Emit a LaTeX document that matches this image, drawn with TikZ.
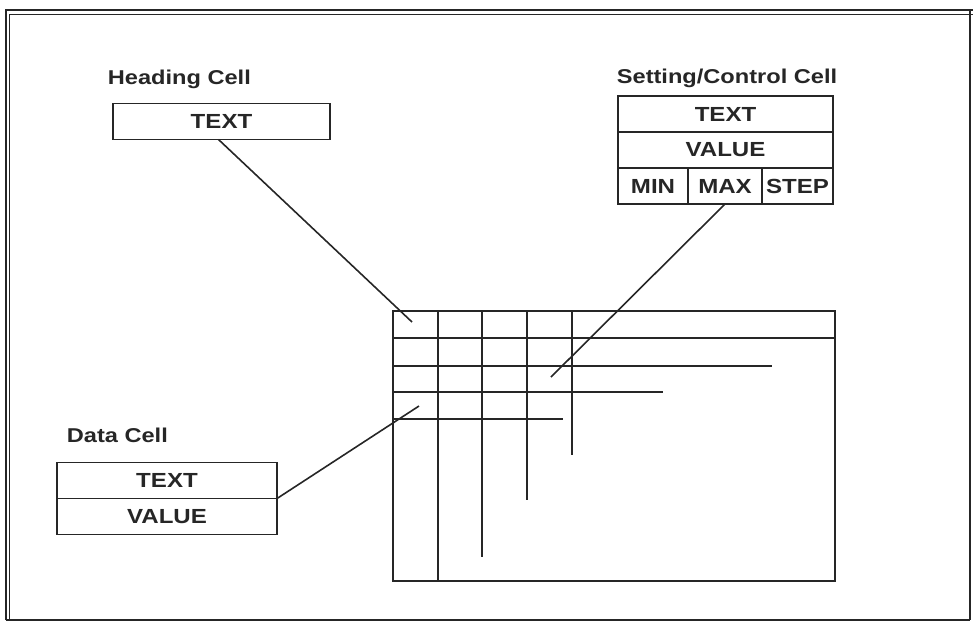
\documentclass[tikz,border=0pt]{standalone}
\usepackage{fontspec}
\setmainfont{Liberation Sans}[FakeStretch=1.18]
\usetikzlibrary{positioning}
\begin{document}
\begin{tikzpicture}[x=0.5pt, y=-0.5pt, line width=0.9pt, color=black!85,
	cella/.style  = {draw, inner sep=0pt, outer sep=0pt, minimum height=18pt,
		font=\fontsize{10.2}{12}\selectfont\bfseries},
	titolo/.style = {anchor=west, inner sep=0pt,
		font=\fontsize{10}{12}\selectfont\bfseries},
	colleg/.style = {line width=0.8pt},
	]
	\useasboundingbox (0,0) rectangle (973,623);
	
	%% ── Cornice ──────────────────────────────────────────────────────────────
	\draw[line width=1.1pt](6,620)--(6,10)--(973,10);
	\draw[line width=0.5pt](9.5,620)--(9.5,14)--(973,14);
	\draw(970,10)--(970,620);
	\draw(6,620)--(970,620);
	
	%% ── Parametri griglia ────────────────────────────────────────────────────
	\def\xL{393} \def\xR{835}
	\def\yT{311} \def\yB{581}
	
	%% ── Griglia ──────────────────────────────────────────────────────────────
	\draw(\xL,\yT)rectangle(\xR,\yB);
	\draw(\xL,338)--(\xR,338);
	\draw(\xL,366)--(772,366);
	\draw(\xL,392)--(663,392);
	\draw(\xL,419)--(563,419);
	\draw(438,\yT)--(438,\yB);
	\draw(482,\yT)--(482,557);
	\draw(527,\yT)--(527,500);
	\draw(572,\yT)--(572,455);
	
	%% ── Cella di intestazione ────────────────────────────────────────────────
	\node[titolo](htit)at(107,79){Heading Cell};
	\node[cella, minimum width=108.5pt](htext)at(221.5,121.5){TEXT};
	
	%% ── Cella di impostazione ────────────────────────────────────────────────
	\node[titolo](stit)at(616,78){Setting/Control Cell};
	\node[cella, minimum width=107.5pt](stext)at(725.5,114){TEXT};
	\node[cella, minimum width=107.5pt, below=0pt of stext](svalue){VALUE};
	\node[cella, minimum width=35pt, below right=0pt and 0pt of svalue.south west](smin){MIN};
	\node[cella, minimum width=37pt, right=0pt of smin](smax){MAX};
	\node[cella, minimum width=35.5pt, right=0pt of smax](sstep){STEP};
	
	%% ── Cella dati ───────────────────────────────────────────────────────────
	\node[titolo](dtit)at(66,435){Data Cell};
	\node[cella, minimum width=110pt](dtext)at(167,480.5){TEXT};
	\node[cella, minimum width=110pt, below=0pt of dtext](dvalue){VALUE};
	
	%% ── Collegamenti ─────────────────────────────────────────────────────────
	\coordinate(hfine)at(412,322);
	\coordinate(sfine)at(551,377);
	\coordinate(dfine)at(419,406);
	\draw[colleg]([xshift=-1.5pt]htext.south)--(hfine);
	\draw[colleg](smax.south)--(sfine);
	\draw[colleg](dtext.south east)--(dfine);
	
\end{tikzpicture}
\end{document}
